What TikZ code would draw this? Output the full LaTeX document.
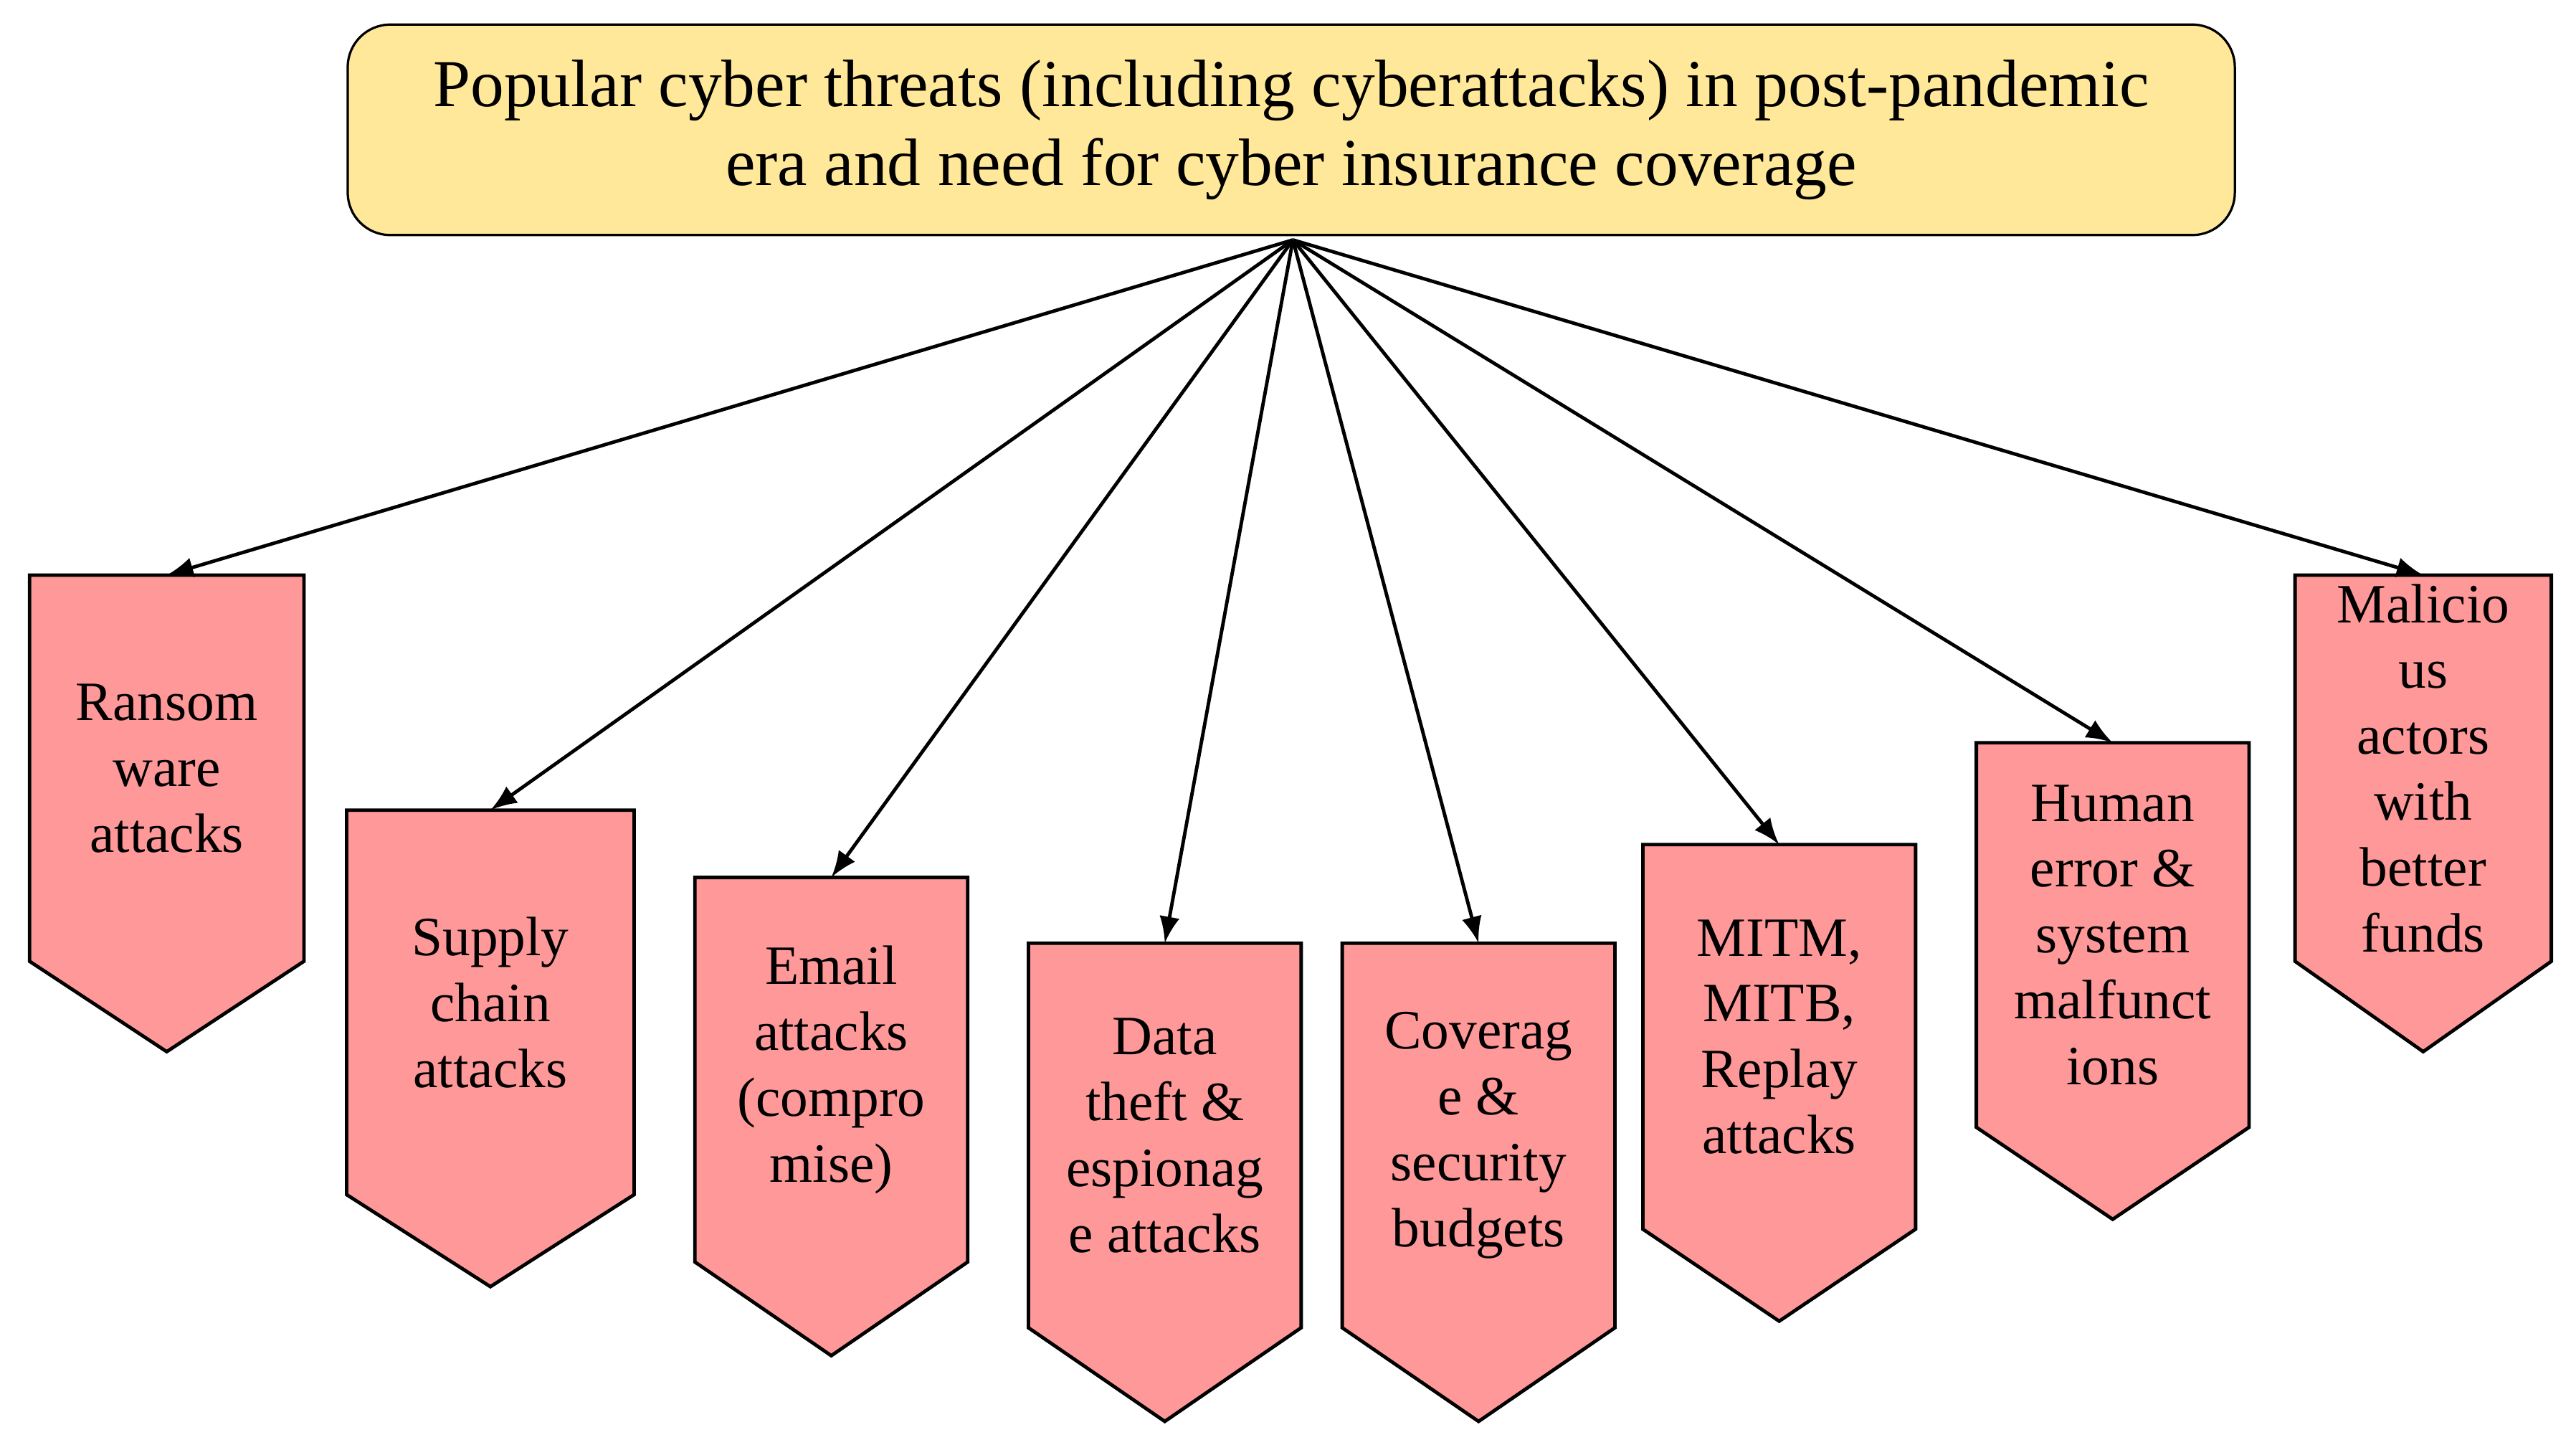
\documentclass[tikz,border=0pt]{standalone}
\usepackage{fontspec}
\setmainfont{Liberation Serif}
\usetikzlibrary{arrows}
\tikzset{
	every node/.style={
		font=\fontsize{9.6}{11.4}\selectfont
	},
	titel/.style={
		shape=rectangle,
		minimum width=11.48cm,
		minimum height=1.28cm,
		text centered,
		rounded corners=1.6ex,
		draw,
		fill=orange!45!yellow!40,
		font=\fontsize{11.6}{13.7}\selectfont
	},
	bedreiging/.style={
		draw, fill=red!40, line width=0.6pt
	},
	myarrow/.style={-latex, line width=0.6pt},
}

\begin{document}
\begin{tikzpicture}[x=0.01cm, y=-0.01cm]
	\useasboundingbox (0,0) rectangle (1568,879);
	\node[titel, align=center] (top) at (786,79) {Popular cyber threats (including cyberattacks) in post-pandemic\\era and need for cyber insurance coverage};
	\coordinate (bron) at (787,146);
	
	\foreach \n/\l/\r/\t/\s/\p/\txt in {
		1/18/185/350/585/640/{Ransom\\ware\\attacks},
		2/211/386/493/727/783/{Supply\\chain\\attacks},
		3/423/589/534/768/825/{Email\\attacks\\(compro\\mise)},
		4/626/792/574/808/865/{Data\\theft \&\\espionag\\e attacks},
		5/817/983/574/808/865/{Coverag\\e \&\\security\\budgets},
		6/1000/1166/514/748/804/{MITM,\\MITB,\\Replay\\attacks},
		7/1203/1369/452/686/742/{Human\\error \&\\system\\malfunct\\ions},
		8/1397/1553/350/585/640/{Malicio\\us\\actors\\with\\better\\funds}}
	{
		\draw[bedreiging] (\l,\t) -- (\r,\t) -- (\r,\s) -- ({(\l+\r)/2},\p) -- (\l,\s) -- cycle;
		\coordinate (a-\n) at ({(\l+\r)/2},\t);
		\node[align=center] (t-\n) at ({(\l+\r)/2},{(\t+\s)/2}) {\txt};
		\draw[myarrow] (bron) -- (a-\n);
	}
\end{tikzpicture}
\end{document}
